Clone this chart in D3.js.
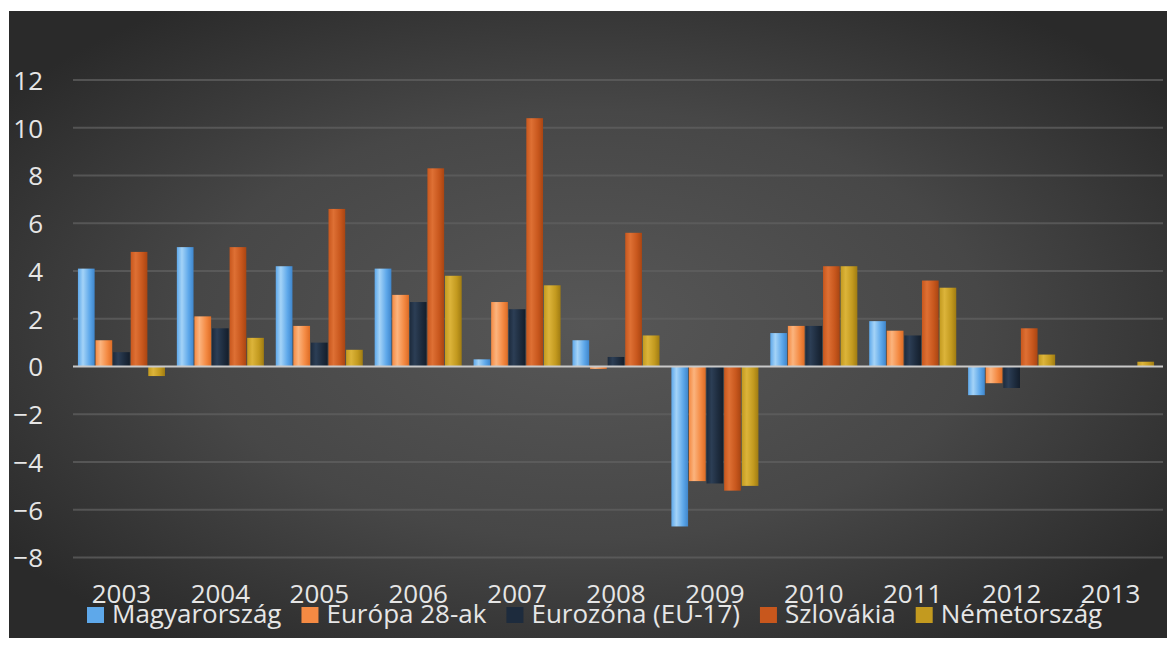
<!DOCTYPE html>
<html>
<head>
<meta charset="utf-8">
<script src="https://cdn.jsdelivr.net/npm/d3@7"></script>
<style>
  html, body { margin: 0; padding: 0; background: #ffffff; }
  svg { display: block; }
  text { font-family: "Open Sans", "DejaVu Sans", sans-serif; }
</style>
</head>
<body>
<svg id="chart" width="1167" height="647"></svg>
<script>
// GDP growth (%) by year and country group
const years = ["2003","2004","2005","2006","2007","2008","2009","2010","2011","2012","2013"];
const seriesNames = ["Magyarország","Európa 28-ak","Eurozóna (EU-17)","Szlovákia","Németország"];
const magyarorszag = [4.1, 5.0, 4.2, 4.1, 0.3, 1.1, -6.7, 1.4, 1.9, -1.2, null];
const europa28 = [1.1, 2.1, 1.7, 3.0, 2.7, -0.1, -4.8, 1.7, 1.5, -0.7, null];
const eurozona = [0.6, 1.6, 1.0, 2.7, 2.4, 0.4, -4.9, 1.7, 1.3, -0.9, null];
const szlovakia = [4.8, 5.0, 6.6, 8.3, 10.4, 5.6, -5.2, 4.2, 3.6, 1.6, null];
const nemetorszag = [-0.4, 1.2, 0.7, 3.8, 3.4, 1.3, -5.0, 4.2, 3.3, 0.5, 0.2];
const yTicks = [-8, -6, -4, -2, 0, 2, 4, 6, 8, 10, 12];

const seriesValues = [magyarorszag, europa28, eurozona, szlovakia, nemetorszag];
// light / mid / dark tones for each series' bar shading
const seriesColors = [
  ["#a4d3f7", "#5ea8ea", "#3f86cc"],
  ["#fbb47e", "#f48a43", "#dd6c25"],
  ["#2c3e55", "#1d2b3d", "#141e2b"],
  ["#de7034", "#c8571d", "#a94512"],
  ["#dcb43a", "#c39a1f", "#a07c12"]
];

const svg = d3.select("#chart");
const defs = svg.append("defs");

// chart area with a soft radial glow
const bg = defs.append("radialGradient").attr("id", "bg")
  .attr("cx", "0.5").attr("cy", "0.5").attr("r", "0.62");
bg.append("stop").attr("offset", "0%").attr("stop-color", "#575757");
bg.append("stop").attr("offset", "55%").attr("stop-color", "#474747");
bg.append("stop").attr("offset", "100%").attr("stop-color", "#2a2a2a");

svg.append("rect").attr("x", 9).attr("y", 11).attr("width", 1158).attr("height", 627)
  .attr("fill", "url(#bg)");

seriesColors.forEach((c, i) => {
  const g = defs.append("linearGradient").attr("id", "bar" + i)
    .attr("x1", "0").attr("x2", "1").attr("y1", "0").attr("y2", "0");
  g.append("stop").attr("offset", "0%").attr("stop-color", c[1]);
  g.append("stop").attr("offset", "30%").attr("stop-color", c[0]);
  g.append("stop").attr("offset", "70%").attr("stop-color", c[1]);
  g.append("stop").attr("offset", "100%").attr("stop-color", c[2]);
});

const plotLeft = 72, plotRight = 1160;
const y = d3.scaleLinear().domain([-8, 12]).range([557.5, 80]);

const x0 = d3.scaleBand().domain(years).range([plotLeft, plotRight])
  .paddingInner(0.12).paddingOuter(0.06);
const x1 = d3.scaleBand().domain(d3.range(seriesNames.length))
  .range([0, x0.bandwidth()]).paddingInner(0.05);

// gridlines
svg.append("g")
  .selectAll("line").data(yTicks.filter(t => t !== 0)).join("line")
  .attr("x1", 73).attr("x2", 1163)
  .attr("y1", d => y(d)).attr("y2", d => y(d))
  .attr("stroke", "#606060").attr("stroke-width", 2).attr("opacity", 0.75);

// y axis labels
const yAxis = d3.axisLeft(y).tickValues(yTicks).tickSize(0).tickPadding(0);
const gy = svg.append("g").attr("transform", "translate(43,0)").call(yAxis);
gy.select(".domain").remove();
gy.selectAll("text").attr("fill", "#e6e6e6").attr("font-size", 26)
  .attr("font-family", "'Open Sans', sans-serif").attr("dy", "0.36em");

// bars
const rows = years.map((yr, i) => ({ year: yr, vals: seriesValues.map(s => s[i]) }));
const groups = svg.append("g").selectAll("g").data(rows).join("g")
  .attr("transform", d => `translate(${x0(d.year)},0)`);
groups.selectAll("rect")
  .data(d => d.vals.map((v, k) => ({ k, v })).filter(e => e.v !== null))
  .join("rect")
  .attr("x", e => x1(e.k))
  .attr("width", x1.bandwidth())
  .attr("y", e => y(Math.max(0, e.v)))
  .attr("height", e => Math.abs(y(e.v) - y(0)))
  .attr("fill", e => `url(#bar${e.k})`);

// zero line
svg.append("line").attr("x1", 73).attr("x2", 1163)
  .attr("y1", y(0)).attr("y2", y(0))
  .attr("stroke", "#c9c9c9").attr("stroke-width", 2);

// year axis
const xAxis = d3.axisBottom(x0).tickSize(0).tickPadding(0);
const gx = svg.append("g").attr("transform", "translate(0,603)").call(xAxis);
gx.select(".domain").remove();
gx.selectAll("text").attr("fill", "#e6e6e6").attr("font-size", 26)
  .attr("font-family", "'Open Sans', sans-serif").attr("dy", "0");

// legend
const legend = svg.append("g");
let lx = 87;
seriesNames.forEach((name, i) => {
  legend.append("rect").attr("x", lx).attr("y", 607).attr("width", 17).attr("height", 16)
    .attr("fill", seriesColors[i][1]);
  const t = legend.append("text").attr("x", lx + 25).attr("y", 623)
    .attr("fill", "#e6e6e6").attr("font-size", 26).text(name);
  lx = lx + 25 + t.node().getComputedTextLength() + 20;
});
</script>
</body>
</html>
